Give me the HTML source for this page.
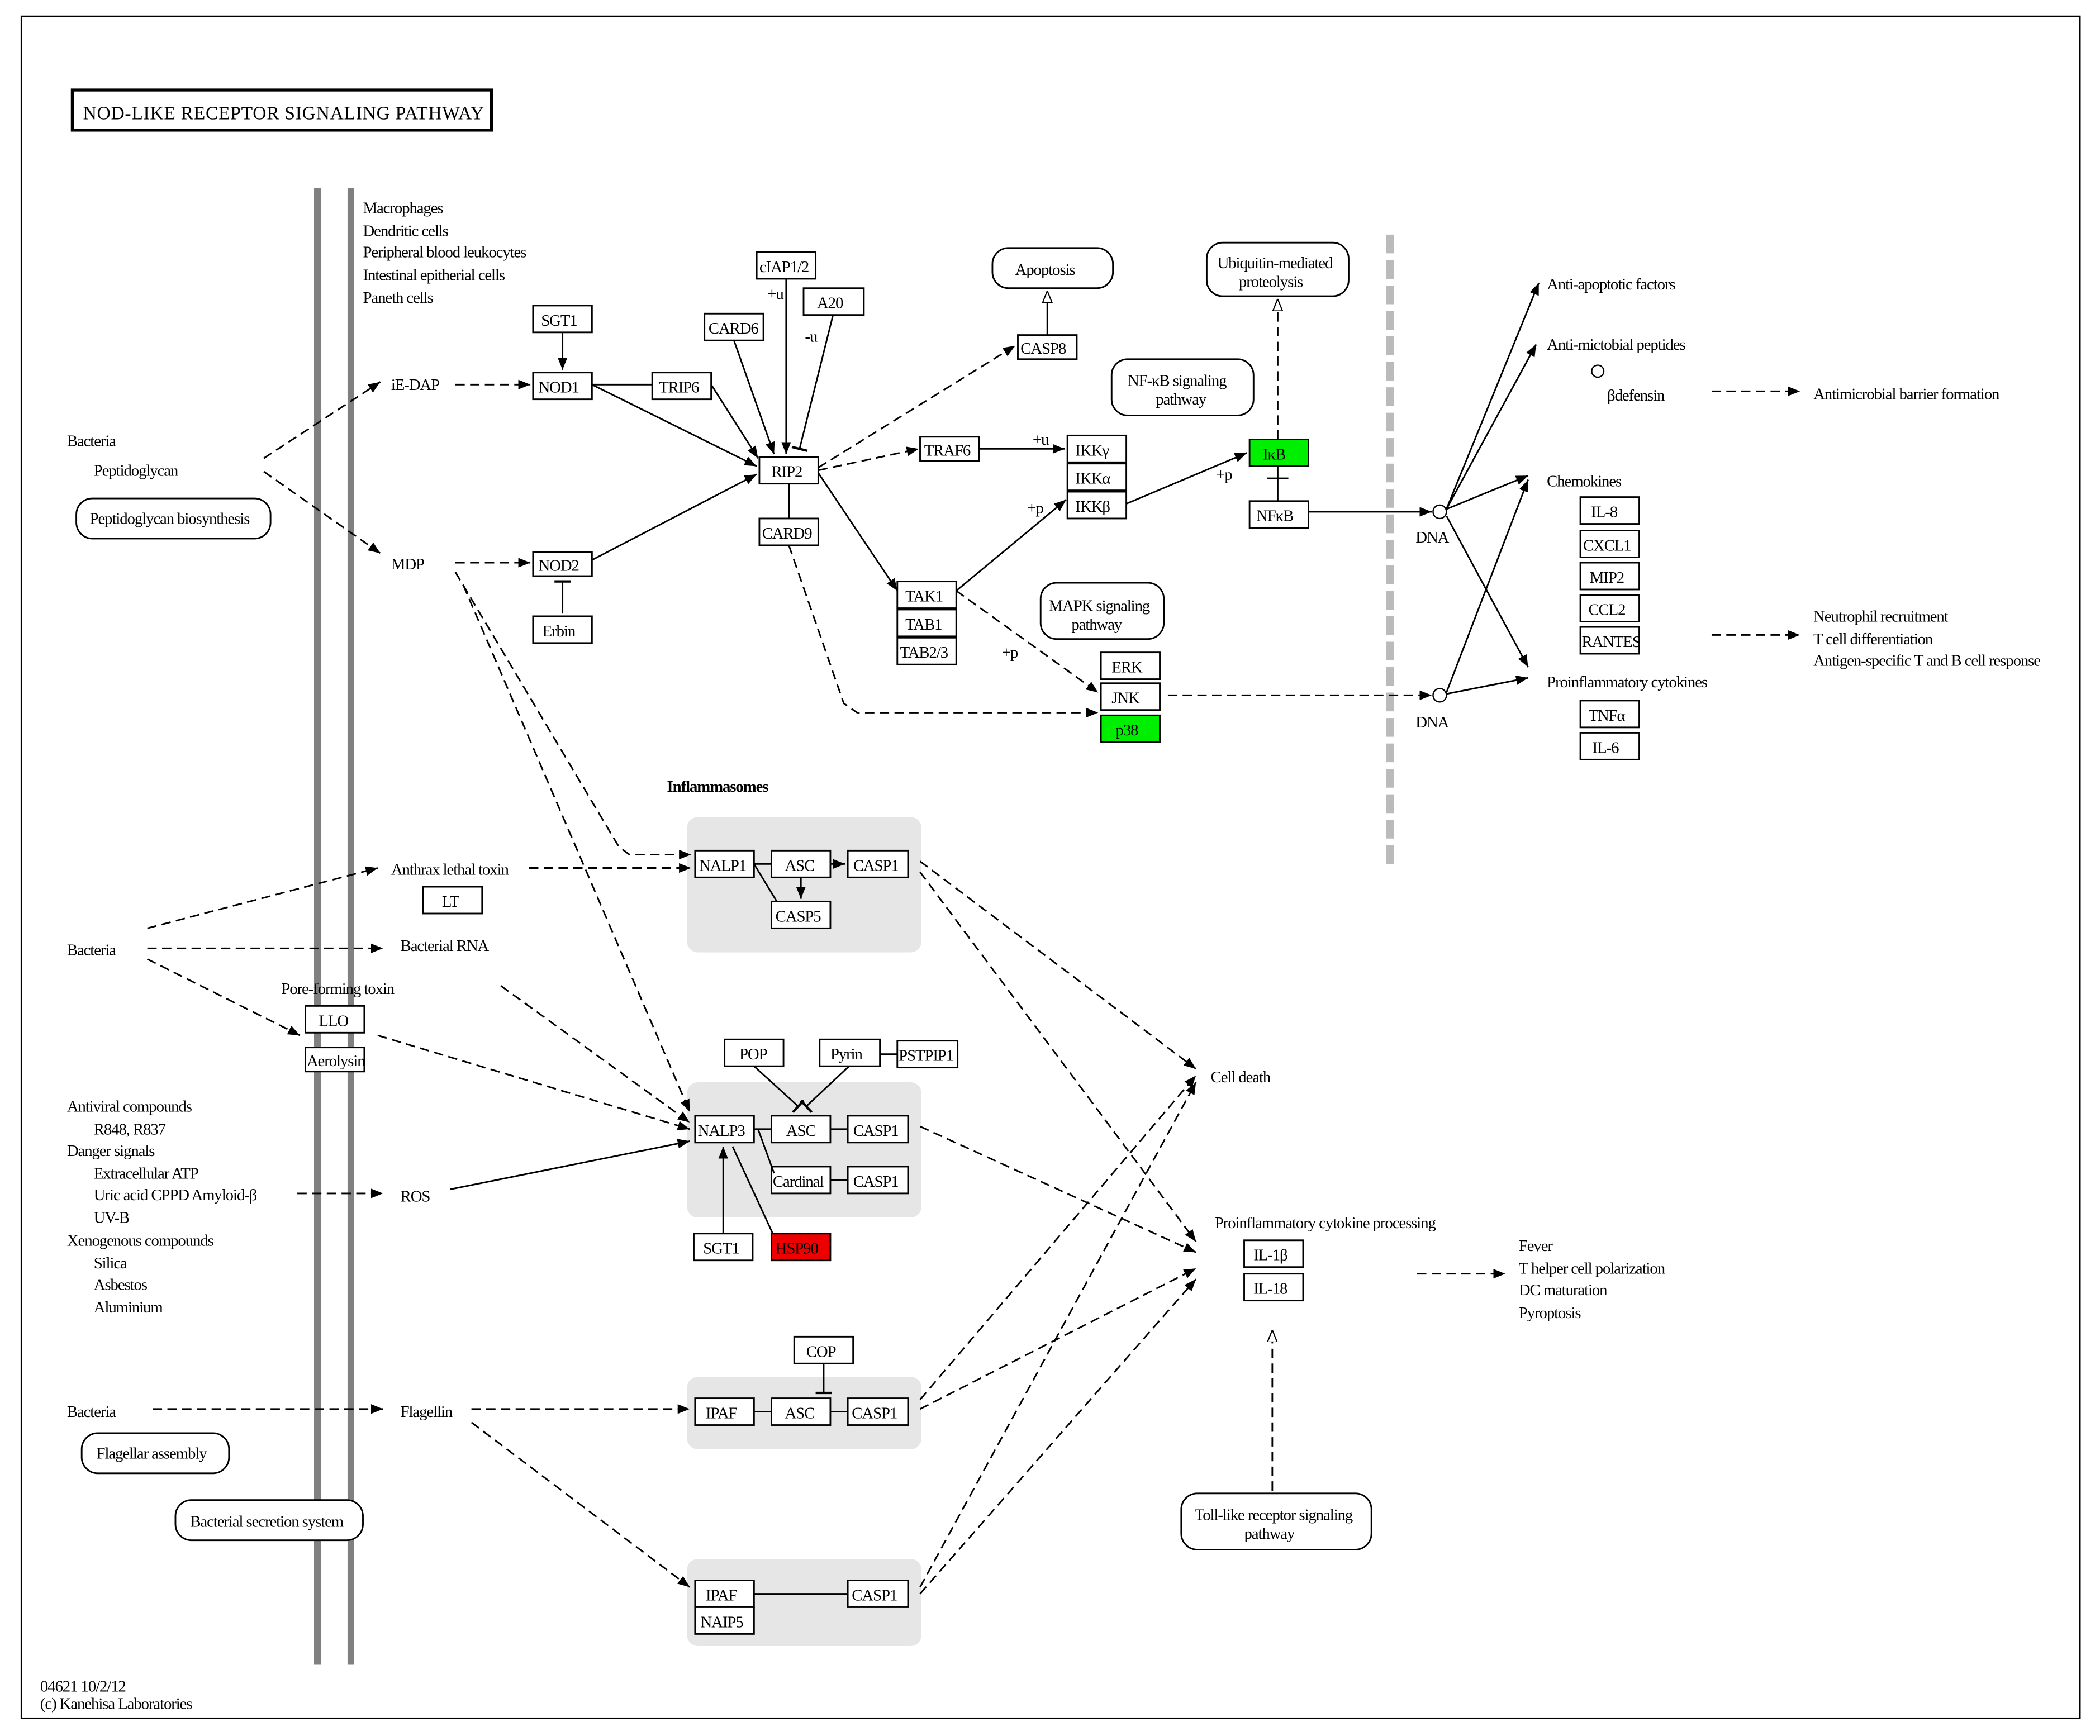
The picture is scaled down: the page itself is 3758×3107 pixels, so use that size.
<!DOCTYPE html>
<html><head><meta charset="utf-8">
<style>
html,body{margin:0;padding:0;background:#fff;}
svg{display:block;}
text{font-family:"Liberation Serif",serif;font-size:12px;letter-spacing:-0.45px;fill:#000;}
.b{fill:#fff;stroke:#000;stroke-width:1.2;}
.g{fill:#00ee00;stroke:#000;stroke-width:1.2;}
.r{fill:#ee0000;stroke:#000;stroke-width:1.2;}
.rr{fill:#fff;stroke:#000;stroke-width:1.2;}
.s{stroke:#000;stroke-width:1.2;fill:none;}
.d{stroke:#000;stroke-width:1.2;fill:none;stroke-dasharray:7,4;}
.gb{fill:#e6e6e6;stroke:none;}
</style></head><body>
<svg width="3758" height="3107" viewBox="0 0 1568 1296" xmlns="http://www.w3.org/2000/svg">
<defs>
<marker id="a" viewBox="0 0 10 10" refX="10" refY="5" markerWidth="9" markerHeight="9" markerUnits="userSpaceOnUse" orient="auto"><path d="M0,1 L10,5 L0,9z" fill="#000"/></marker>
<marker id="o" viewBox="0 0 10 10" refX="10" refY="5" markerWidth="9" markerHeight="9" markerUnits="userSpaceOnUse" orient="auto"><path d="M0,1 L10,5 L0,9z" fill="#fff" stroke="#000"/></marker>
<marker id="t" viewBox="0 0 10 10" refX="5" refY="5" markerWidth="12" markerHeight="12" markerUnits="userSpaceOnUse" orient="auto"><path d="M5,0 L5,10" stroke="#000" stroke-width="1.5"/></marker>
</defs>
<rect x="16" y="12" width="1537" height="1271" fill="none" stroke="#000" stroke-width="1.2"/>
<rect x="54" y="67" width="313" height="30" fill="#fff" stroke="#000" stroke-width="2.2"/>
<text x="62" y="89" style="font-size:14px;letter-spacing:0.3px">NOD-LIKE  RECEPTOR  SIGNALING  PATHWAY</text>
<line x1="237" y1="140" x2="237" y2="1243" stroke="#808080" stroke-width="5"/>
<line x1="262" y1="140" x2="262" y2="1243" stroke="#808080" stroke-width="5"/>
<line x1="1038" y1="175" x2="1038" y2="648" stroke="#bbb" stroke-width="6" stroke-dasharray="14,5"/>

<rect class="gb" x="513" y="610" width="175" height="101" rx="8"/>
<rect class="gb" x="513" y="808" width="175" height="101" rx="8"/>
<rect class="gb" x="513" y="1028" width="175" height="54" rx="8"/>
<rect class="gb" x="513" y="1164" width="175" height="65" rx="8"/>

<text x="271" y="159">Macrophages</text>
<text x="271" y="176">Dendritic cells</text>
<text x="271" y="192">Peripheral blood leukocytes</text>
<text x="271" y="209">Intestinal epitherial cells</text>
<text x="271" y="226">Paneth cells</text>
<text x="50" y="333">Bacteria</text>
<text x="70" y="355">Peptidoglycan</text>
<rect class="rr" x="57" y="372" width="145" height="30" rx="12"/>
<text x="67" y="391">Peptidoglycan biosynthesis</text>
<text x="292" y="291">iE-DAP</text>
<text x="292" y="425">MDP</text>

<g>
<rect class="b" x="398" y="228" width="44" height="20"/><text x="404" y="243">SGT1</text>
<rect class="b" x="398" y="278" width="44" height="20"/><text x="402" y="293">NOD1</text>
<rect class="b" x="487" y="278" width="44" height="20"/><text x="492" y="293">TRIP6</text>
<rect class="b" x="398" y="412" width="44" height="18"/><text x="402" y="426">NOD2</text>
<rect class="b" x="398" y="460" width="44" height="20"/><text x="405" y="475">Erbin</text>
<rect class="b" x="565" y="188" width="44" height="20"/><text x="567" y="203">cIAP1/2</text>
<rect class="b" x="526" y="234" width="44" height="20"/><text x="529" y="249">CARD6</text>
<rect class="b" x="600" y="215" width="45" height="20"/><text x="610" y="230">A20</text>
<rect class="b" x="567" y="341" width="44" height="20"/><text x="576" y="356">RIP2</text>
<rect class="b" x="567" y="387" width="44" height="20"/><text x="569" y="402">CARD9</text>
<rect class="rr" x="741" y="185" width="90" height="30" rx="12"/><text x="758" y="205">Apoptosis</text>
<rect class="b" x="760" y="250" width="44" height="18"/><text x="762" y="264">CASP8</text>
<rect class="rr" x="901" y="181" width="106" height="40" rx="12"/><text x="909" y="200">Ubiquitin-mediated</text><text x="925" y="214">proteolysis</text>
<rect class="rr" x="830" y="268" width="106" height="42" rx="12"/><text x="842" y="288">NF-κB signaling</text><text x="863" y="302">pathway</text>
<rect class="b" x="687" y="326" width="44" height="18"/><text x="690" y="340">TRAF6</text>
<rect class="b" x="797" y="325" width="44" height="20"/><text x="803" y="340">IKKγ</text>
<rect class="b" x="797" y="346" width="44" height="20"/><text x="803" y="361">IKKα</text>
<rect class="b" x="797" y="367" width="44" height="20"/><text x="803" y="382">IKKβ</text>
<rect class="g" x="933" y="328" width="44" height="20"/><text x="943" y="343">IκB</text>
<rect class="b" x="933" y="374" width="44" height="20"/><text x="938" y="389">NFκB</text>
<rect class="rr" x="777" y="435" width="92" height="42" rx="12"/><text x="783" y="456">MAPK signaling</text><text x="800" y="470">pathway</text>
<rect class="b" x="670" y="434" width="44" height="20"/><text x="676" y="449">TAK1</text>
<rect class="b" x="670" y="455" width="44" height="20"/><text x="676" y="470">TAB1</text>
<rect class="b" x="670" y="476" width="44" height="20"/><text x="672" y="491">TAB2/3</text>
<rect class="b" x="822" y="487" width="44" height="20"/><text x="830" y="502">ERK</text>
<rect class="b" x="822" y="510" width="44" height="20"/><text x="830" y="525">JNK</text>
<rect class="g" x="822" y="534" width="44" height="20"/><text x="833" y="549">p38</text>
</g>
<text x="573" y="223">+u</text>
<text x="601" y="255">-u</text>
<text x="771" y="332">+u</text>
<text x="767" y="383">+p</text>
<text x="908" y="358">+p</text>
<text x="748" y="491">+p</text>

<circle cx="1075" cy="382" r="5" fill="#fff" stroke="#000"/>
<circle cx="1075" cy="519" r="5" fill="#fff" stroke="#000"/>
<text x="1057" y="405">DNA</text>
<text x="1057" y="543">DNA</text>

<text x="1155" y="216">Anti-apoptotic factors</text>
<text x="1155" y="261">Anti-mictobial peptides</text>
<circle cx="1193" cy="277" r="4.5" fill="#fff" stroke="#000"/>
<text x="1200" y="299">βdefensin</text>
<text x="1354" y="298">Antimicrobial barrier formation</text>
<text x="1155" y="363">Chemokines</text>
<rect class="b" x="1180" y="371" width="44" height="20"/><text x="1188" y="386">IL-8</text>
<rect class="b" x="1180" y="396" width="44" height="20"/><text x="1182" y="411">CXCL1</text>
<rect class="b" x="1180" y="420" width="44" height="20"/><text x="1187" y="435">MIP2</text>
<rect class="b" x="1180" y="444" width="44" height="20"/><text x="1186" y="459">CCL2</text>
<rect class="b" x="1180" y="468" width="44" height="20"/><text x="1181" y="483">RANTES</text>
<text x="1354" y="464">Neutrophil recruitment</text>
<text x="1354" y="481">T cell differentiation</text>
<text x="1354" y="497">Antigen-specific T and B cell response</text>
<text x="1155" y="513">Proinflammatory cytokines</text>
<rect class="b" x="1180" y="523" width="44" height="20"/><text x="1186" y="538">TNFα</text>
<rect class="b" x="1180" y="547" width="44" height="20"/><text x="1189" y="562">IL-6</text>

<text x="498" y="591" style="font-weight:bold">Inflammasomes</text>
<rect class="b" x="519" y="635" width="44" height="20"/><text x="522" y="650">NALP1</text>
<rect class="b" x="576" y="635" width="44" height="20"/><text x="586" y="650">ASC</text>
<rect class="b" x="633" y="635" width="45" height="20"/><text x="637" y="650">CASP1</text>
<rect class="b" x="576" y="673" width="44" height="20"/><text x="579" y="688">CASP5</text>
<text x="292" y="653">Anthrax lethal toxin</text>
<rect class="b" x="316" y="662" width="44" height="20"/><text x="330" y="677">LT</text>
<text x="50" y="713">Bacteria</text>
<text x="299" y="710">Bacterial RNA</text>
<text x="210" y="742">Pore-forming toxin</text>
<rect class="b" x="228" y="751" width="44" height="20"/><text x="238" y="766">LLO</text>
<rect class="b" x="228" y="782" width="44" height="18"/><text x="229" y="796">Aerolysin</text>
<rect class="b" x="541" y="776" width="44" height="20"/><text x="552" y="791">POP</text>
<rect class="b" x="612" y="776" width="45" height="20"/><text x="620" y="791">Pyrin</text>
<rect class="b" x="670" y="777" width="45" height="20"/><text x="671" y="792">PSTPIP1</text>
<rect class="b" x="519" y="833" width="44" height="20"/><text x="521" y="848">NALP3</text>
<rect class="b" x="576" y="833" width="44" height="20"/><text x="587" y="848">ASC</text>
<rect class="b" x="633" y="833" width="45" height="20"/><text x="637" y="848">CASP1</text>
<rect class="b" x="576" y="871" width="44" height="20"/><text x="577" y="886">Cardinal</text>
<rect class="b" x="633" y="871" width="45" height="20"/><text x="637" y="886">CASP1</text>
<rect class="b" x="518" y="921" width="44" height="20"/><text x="525" y="936">SGT1</text>
<rect class="r" x="576" y="921" width="44" height="20"/><text x="579" y="936">HSP90</text>
<text x="50" y="830">Antiviral compounds</text>
<text x="70" y="847">R848, R837</text>
<text x="50" y="863">Danger signals</text>
<text x="70" y="880">Extracellular ATP</text>
<text x="70" y="896">Uric acid  CPPD  Amyloid-β</text>
<text x="70" y="913">UV-B</text>
<text x="50" y="930">Xenogenous compounds</text>
<text x="70" y="947">Silica</text>
<text x="70" y="963">Asbestos</text>
<text x="70" y="980">Aluminium</text>
<text x="299" y="897">ROS</text>
<rect class="b" x="593" y="998" width="44" height="20"/><text x="602" y="1013">COP</text>
<rect class="b" x="519" y="1044" width="44" height="20"/><text x="527" y="1059">IPAF</text>
<rect class="b" x="576" y="1044" width="44" height="20"/><text x="586" y="1059">ASC</text>
<rect class="b" x="633" y="1044" width="45" height="20"/><text x="636" y="1059">CASP1</text>
<text x="50" y="1058">Bacteria</text>
<rect class="rr" x="61" y="1070" width="110" height="30" rx="12"/><text x="72" y="1089">Flagellar assembly</text>
<text x="299" y="1058">Flagellin</text>
<rect class="rr" x="131" y="1120" width="140" height="30" rx="12"/><text x="142" y="1140">Bacterial secretion system</text>
<rect class="b" x="519" y="1180" width="44" height="20"/><text x="527" y="1195">IPAF</text>
<rect class="b" x="519" y="1200" width="44" height="20"/><text x="523" y="1215">NAIP5</text>
<rect class="b" x="633" y="1180" width="45" height="20"/><text x="636" y="1195">CASP1</text>
<text x="904" y="808">Cell death</text>
<text x="907" y="917">Proinflammatory cytokine processing</text>
<rect class="b" x="929" y="926" width="44" height="20"/><text x="936" y="941">IL-1β</text>
<rect class="b" x="929" y="951" width="44" height="20"/><text x="936" y="966">IL-18</text>
<text x="1134" y="934">Fever</text>
<text x="1134" y="951">T helper cell polarization</text>
<text x="1134" y="967">DC maturation</text>
<text x="1134" y="984">Pyroptosis</text>
<rect class="rr" x="882" y="1115" width="142" height="42" rx="12"/><text x="892" y="1135">Toll-like receptor signaling</text><text x="929" y="1149">pathway</text>
<text x="30" y="1263">04621 10/2/12</text>
<text x="30" y="1276">(c) Kanehisa Laboratories</text>

<path class="d" d="M197,342 L284,285" marker-end="url(#a)"/>
<path class="d" d="M197,352 L284,413" marker-end="url(#a)"/>
<path class="d" d="M340,287 L396,287" marker-end="url(#a)"/>
<path class="d" d="M340,420 L396,420" marker-end="url(#a)"/>
<path class="s" d="M420,248 L420,276" marker-end="url(#a)"/>
<path class="s" d="M420,458 L420,434" marker-end="url(#t)"/>
<path class="s" d="M442,287 L487,287"/>
<path class="s" d="M442,287 L565,348" marker-end="url(#a)"/>
<path class="s" d="M531,287 L566,342" marker-end="url(#a)"/>
<path class="s" d="M442,418 L565,354" marker-end="url(#a)"/>
<path class="s" d="M548,254 L578,339" marker-end="url(#a)"/>
<path class="s" d="M587,208 L587,339" marker-end="url(#a)"/>
<path class="s" d="M622,235 L597,335" marker-end="url(#t)"/>
<path class="s" d="M589,361 L589,387"/>
<path class="d" d="M611,349 L758,258" marker-end="url(#a)"/>
<path class="s" d="M782,250 L782,217" marker-end="url(#o)"/>
<path class="d" d="M611,351 L686,335" marker-end="url(#a)"/>
<path class="s" d="M731,335 L795,335" marker-end="url(#a)"/>
<path class="s" d="M611,353 L670,441" marker-end="url(#a)"/>
<path class="s" d="M714,441 L796,373" marker-end="url(#a)"/>
<path class="s" d="M841,376 L931,338" marker-end="url(#a)"/>
<path class="d" d="M954,328 L954,223" marker-end="url(#o)"/>
<path class="s" d="M954,348 L954,374"/>
<path class="s" d="M946,357 L962,357"/>
<path class="s" d="M977,382 L1069,382" marker-end="url(#a)"/>
<path class="d" d="M714,441 L820,517" marker-end="url(#a)"/>
<path class="d" d="M589,407 L630,525 L640,532 L820,532" marker-end="url(#a)"/>
<path class="d" d="M872,519 L1069,519" marker-end="url(#a)"/>
<path class="s" d="M1080,380 L1149,211" marker-end="url(#a)"/>
<path class="s" d="M1080,380 L1147,257" marker-end="url(#a)"/>
<path class="s" d="M1080,380 L1141,355" marker-end="url(#a)"/>
<path class="s" d="M1080,385 L1141,498" marker-end="url(#a)"/>
<path class="s" d="M1080,517 L1141,358" marker-end="url(#a)"/>
<path class="s" d="M1080,518 L1141,506" marker-end="url(#a)"/>
<path class="d" d="M1278,292 L1344,292" marker-end="url(#a)"/>
<path class="d" d="M1278,474 L1344,474" marker-end="url(#a)"/>

<path class="d" d="M110,693 L282,648" marker-end="url(#a)"/>
<path class="d" d="M110,708 L286,708" marker-end="url(#a)"/>
<path class="d" d="M110,716 L224,773" marker-end="url(#a)"/>
<path class="d" d="M395,648 L516,648" marker-end="url(#a)"/>
<path class="d" d="M340,427 L462,632 L470,638 L516,638" marker-end="url(#a)"/>
<path class="d" d="M346,437 L515,830" marker-end="url(#a)"/>
<path class="d" d="M374,736 L515,838" marker-end="url(#a)"/>
<path class="d" d="M282,773 L515,843" marker-end="url(#a)"/>
<path class="s" d="M336,888 L515,852" marker-end="url(#a)"/>
<path class="d" d="M222,891 L286,891" marker-end="url(#a)"/>
<path class="s" d="M563,645 L576,645"/>
<path class="s" d="M620,645 L631,645" marker-end="url(#a)"/>
<path class="s" d="M598,655 L598,671" marker-end="url(#a)"/>
<path class="s" d="M563,645 L580,673"/>
<path class="s" d="M563,843 L576,843"/>
<path class="s" d="M620,843 L633,843"/>
<path class="s" d="M566,843 L578,876"/>
<path class="s" d="M620,881 L633,881"/>
<path class="s" d="M563,796 L596,826" marker-end="url(#t)"/>
<path class="s" d="M634,796 L602,826" marker-end="url(#t)"/>
<path class="s" d="M657,787 L670,787"/>
<path class="s" d="M540,921 L540,856" marker-end="url(#a)"/>
<path class="s" d="M577,921 L547,856"/>
<path class="s" d="M615,1018 L615,1040" marker-end="url(#t)"/>
<path class="s" d="M563,1054 L576,1054"/>
<path class="s" d="M620,1054 L633,1054"/>
<path class="s" d="M563,1190 L633,1190"/>
<path class="d" d="M114,1052 L286,1052" marker-end="url(#a)"/>
<path class="d" d="M352,1052 L515,1052" marker-end="url(#a)"/>
<path class="d" d="M352,1062 L515,1185" marker-end="url(#a)"/>
<path class="d" d="M687,643 L893,798" marker-end="url(#a)"/>
<path class="d" d="M687,651 L893,927" marker-end="url(#a)"/>
<path class="d" d="M687,841 L893,935" marker-end="url(#a)"/>
<path class="d" d="M687,1045 L893,803" marker-end="url(#a)"/>
<path class="d" d="M687,1052 L893,947" marker-end="url(#a)"/>
<path class="d" d="M687,1185 L893,808" marker-end="url(#a)"/>
<path class="d" d="M687,1190 L893,955" marker-end="url(#a)"/>
<path class="d" d="M1058,951 L1124,951" marker-end="url(#a)"/>
<path class="d" d="M950,1113 L950,993" marker-end="url(#o)"/>
</svg>
</body></html>
